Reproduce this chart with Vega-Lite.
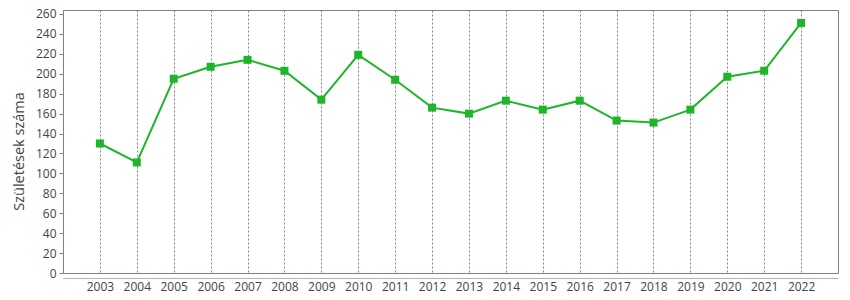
{
  "$schema": "https://vega.github.io/schema/vega-lite/v6.json",
  "autosize": "none",
  "padding": {"left": 63, "top": 10, "right": 12, "bottom": 27},
  "width": 775,
  "height": 263,
  "config": {
    "view": {"stroke": "#808080", "strokeWidth": 1},
    "font": "Open Sans"
  },
  "data": {
    "values": [
      {"ev": "2003", "szuletes": 130},
      {"ev": "2004", "szuletes": 111},
      {"ev": "2005", "szuletes": 195},
      {"ev": "2006", "szuletes": 207},
      {"ev": "2007", "szuletes": 214},
      {"ev": "2008", "szuletes": 203},
      {"ev": "2009", "szuletes": 174},
      {"ev": "2010", "szuletes": 219},
      {"ev": "2011", "szuletes": 194},
      {"ev": "2012", "szuletes": 166},
      {"ev": "2013", "szuletes": 160},
      {"ev": "2014", "szuletes": 173},
      {"ev": "2015", "szuletes": 164},
      {"ev": "2016", "szuletes": 173},
      {"ev": "2017", "szuletes": 153},
      {"ev": "2018", "szuletes": 151},
      {"ev": "2019", "szuletes": 164},
      {"ev": "2020", "szuletes": 197},
      {"ev": "2021", "szuletes": 203},
      {"ev": "2022", "szuletes": 251}
    ]
  },
  "encoding": {
    "x": {
      "field": "ev",
      "type": "ordinal",
      "scale": {"type": "point", "padding": 1},
      "axis": {
        "title": null,
        "labelAngle": 0,
        "labelFontSize": 12,
        "labelColor": "#444444",
        "labelPadding": 3,
        "offset": 5,
        "domainColor": "#b0b0b0",
        "ticks": false,
        "grid": true,
        "gridDash": [2, 2],
        "gridColor": "#666666",
        "gridWidth": 0.8
      }
    },
    "y": {
      "field": "szuletes",
      "type": "quantitative",
      "scale": {"domain": [0, 264], "nice": false},
      "axis": {
        "title": "Születések száma",
        "titleFontSize": 14.5,
        "titleFontWeight": "normal",
        "titleColor": "#444444",
        "titlePadding": 9,
        "titleY": 141,
        "values": [0, 20, 40, 60, 80, 100, 120, 140, 160, 180, 200, 220, 240, 260],
        "labelFontSize": 12,
        "labelColor": "#444444",
        "labelPadding": 3,
        "tickSize": 4,
        "tickColor": "#808080",
        "domain": false,
        "grid": false
      }
    }
  },
  "layer": [
    {
      "mark": {"type": "line", "color": "#1fb52a", "strokeWidth": 2}
    },
    {
      "mark": {"type": "square", "color": "#1fb52a", "opacity": 1, "size": 64, "filled": true}
    }
  ]
}
